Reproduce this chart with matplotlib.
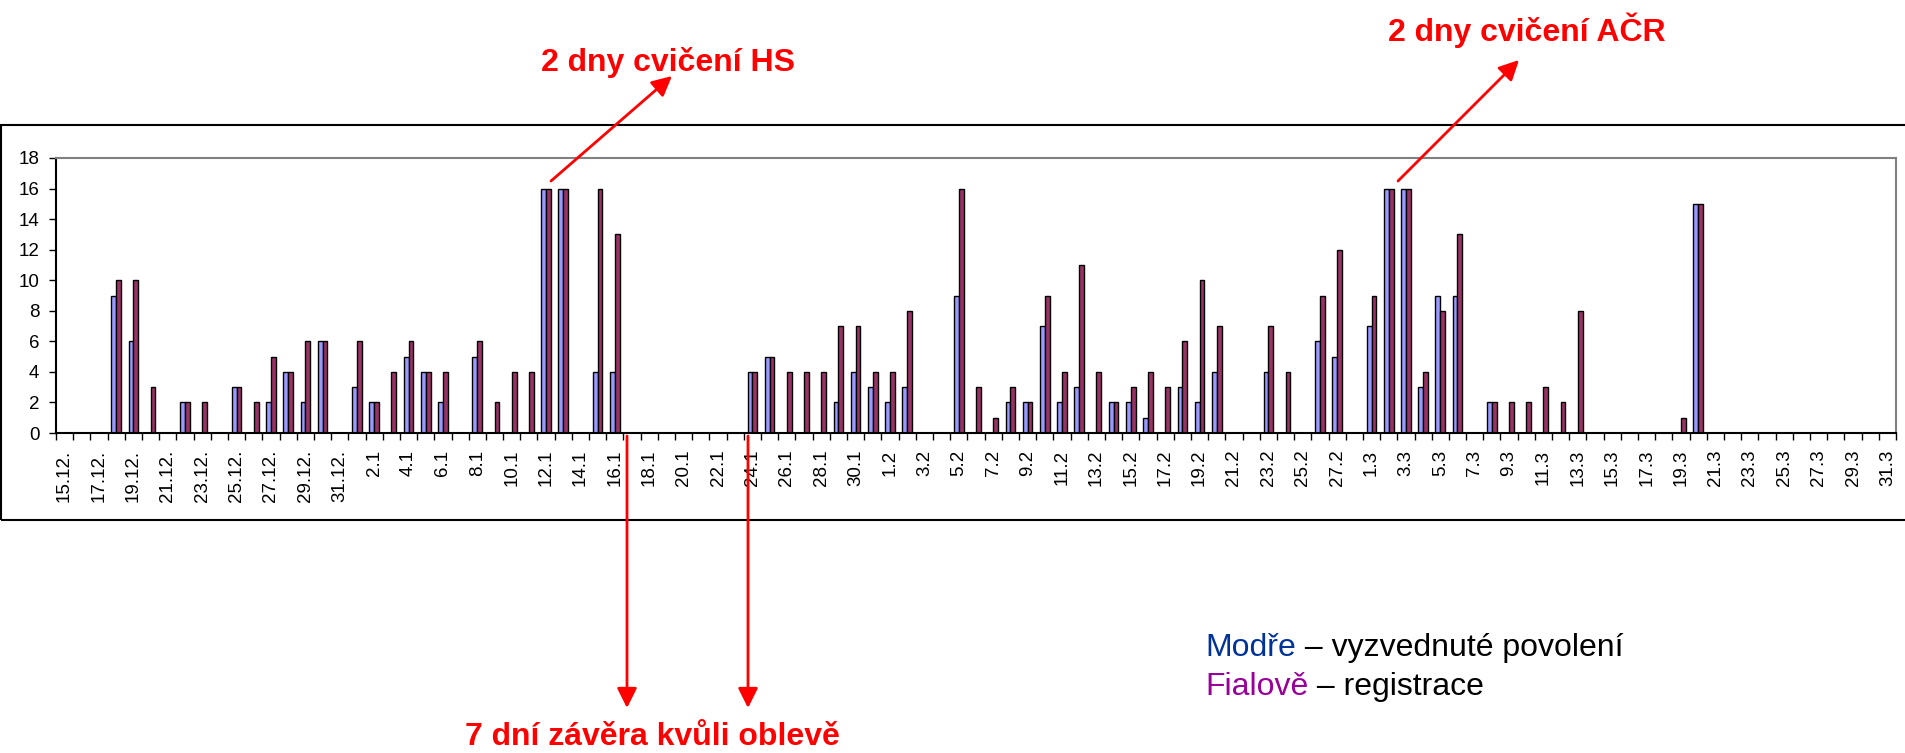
import numpy as np
import pandas as pd
import matplotlib
matplotlib.use('Agg')
import matplotlib.pyplot as plt
from matplotlib.patches import Rectangle

plt.rcParams['font.family'] = ['Liberation Sans', 'DejaVu Sans']

# days 15.12. - 31.3.
days = pd.date_range('2005-12-15', '2006-03-31', freq='D')
labels = [f'{d.day}.{d.month}.' if d.month == 12 else f'{d.day}.{d.month}' for d in days]

# Modře - vyzvednuté povolení
blue = [0, 0, 0, 9, 6, 0, 0, 2, 0, 0, 3, 0, 2, 4, 2, 6, 0,
        3, 2, 0, 5, 4, 2, 0, 5, 0, 0, 0, 16, 16, 0, 4, 4,
        0, 0, 0, 0, 0, 0, 0, 4, 5, 0, 0, 0, 2, 4, 3,
        2, 3, 0, 0, 9, 0, 0, 2, 2, 7, 2, 3, 0, 2, 2, 1, 0, 3, 2, 4,
        0, 0, 4, 0, 0, 6, 5, 0,
        7, 16, 16, 3, 9, 9, 0, 2, 0, 0, 0, 0, 0,
        0, 0, 0, 0, 0, 0, 15, 0, 0, 0, 0, 0, 0, 0, 0, 0, 0, 0]
# Fialově - registrace
purple = [0, 0, 0, 10, 10, 3, 0, 2, 2, 0, 3, 2, 5, 4, 6, 6, 0,
          6, 2, 4, 6, 4, 4, 0, 6, 2, 4, 4, 16, 16, 0, 16, 13,
          0, 0, 0, 0, 0, 0, 0, 4, 5, 4, 4, 4, 7, 7, 4,
          4, 8, 0, 0, 16, 3, 1, 3, 2, 9, 4, 11, 4, 2, 3, 4, 3, 6, 10, 7,
          0, 0, 7, 4, 0, 9, 12, 0,
          9, 16, 16, 4, 8, 13, 0, 2, 2, 2, 3, 2, 8,
          0, 0, 0, 0, 0, 1, 15, 0, 0, 0, 0, 0, 0, 0, 0, 0, 0, 0]

W, H = 1905, 753
fig = plt.figure(figsize=(W / 100, H / 100), dpi=100)

def fx(px):
    return px / W

def fy(py):
    return 1 - py / H

# outer chart frame
fig.add_artist(Rectangle((fx(1), fy(520)), 1.2, fy(125) - fy(520), transform=fig.transFigure,
                         fill=False, edgecolor='black', linewidth=1.5))

ax = fig.add_axes([fx(56), fy(433), fx(1896) - fx(56), fy(158) - fy(433)])
x = np.arange(len(days))
bw = 0.28
ax.bar(x - bw / 2, blue, width=bw, color='#9999FF', edgecolor='black', linewidth=1)
ax.bar(x + bw / 2, purple, width=bw, color='#993366', edgecolor='black', linewidth=1)

ax.set_xlim(-0.5, len(days) - 0.5)
ax.set_ylim(0, 18)
ax.set_yticks(range(0, 19, 2))
ax.set_xticks(x[::2])
ax.set_xticklabels(labels[::2], rotation=90, fontsize=13.5)
ax.set_xticks(np.arange(-0.5, len(days), 1), minor=True)
ax.tick_params(axis='x', which='major', length=0, pad=12)
ax.tick_params(axis='x', which='minor', length=5, width=1)
ax.tick_params(axis='y', length=5, width=1, pad=7, labelsize=13.5)
for s in ['top', 'right']:
    ax.spines[s].set_color('#808080')
    ax.spines[s].set_linewidth(1.5)
for s in ['left', 'bottom']:
    ax.spines[s].set_linewidth(1.5)

# annotations
red = '#FF0000'
fig.text(fx(668), fy(62), '2 dny cvičení HS', color=red, fontsize=23, fontweight='bold',
         ha='center', va='center')
fig.text(fx(1527), fy(30), '2 dny cvičení AČR', color=red, fontsize=23, fontweight='bold',
         ha='center', va='center')
fig.text(fx(652), fy(737), '7 dní závěra kvůli oblevě', color=red, fontsize=23, fontweight='bold',
         ha='center', va='center')

arrows = [((551, 181), (672, 76)), ((1398, 181), (1519, 60)),
          ((627, 436), (627, 708)), ((748, 436), (748, 708))]
for (x0, y0), (x1, y1) in arrows:
    fig.add_artist(matplotlib.patches.FancyArrowPatch(
        (fx(x0), fy(y0)), (fx(x1), fy(y1)), transform=fig.transFigure,
        arrowstyle='-|>', mutation_scale=30, color=red, linewidth=2, shrinkA=0, shrinkB=0))

# legend text
t1 = fig.text(fx(1205), fy(648), 'Modře', color='#003399', fontsize=23, va='center')
fig.canvas.draw()
bb = t1.get_window_extent()
fig.text(bb.x1 / W, fy(648), ' – vyzvednuté povolení', color='black', fontsize=23, va='center')
t2 = fig.text(fx(1205), fy(687), 'Fialově', color='#990099', fontsize=23, va='center')
fig.canvas.draw()
bb = t2.get_window_extent()
fig.text(bb.x1 / W, fy(687), ' – registrace', color='black', fontsize=23, va='center')

fig.savefig('out.png', dpi=100)
